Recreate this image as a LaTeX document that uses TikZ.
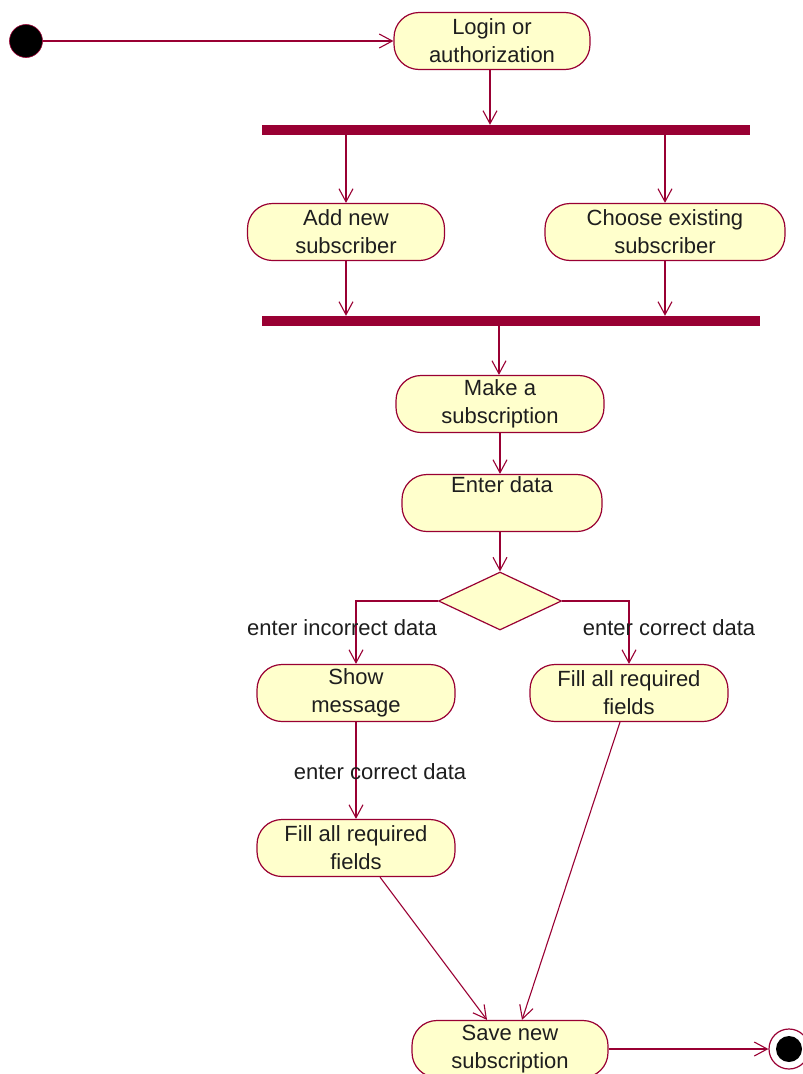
\documentclass[tikz,border=0pt]{standalone}
\usepackage{fontspec}
\setmainfont{Liberation Sans}
\usetikzlibrary{arrows.meta,shapes.geometric}
\definecolor{umlline}{HTML}{990033}
\definecolor{umlfill}{HTML}{FFFFCC}
\definecolor{umltext}{HTML}{1E1E1E}
\begin{document}
\begin{tikzpicture}[x=1pt,y=-1pt,
  activity/.style={draw=umlline, fill=umlfill, line width=1.2pt,
    rounded corners=25pt, minimum height=57pt, align=center,
    text=umltext, font=\fontsize{22}{28}\selectfont, inner sep=0pt},
  bar/.style={fill=umlline, draw=none, inner sep=0pt, minimum height=10pt},
  flow/.style={draw=umlline, line width=1.1pt,
    -{Straight Barb[length=13pt,width=14pt,line width=1.1pt]}},
  guard/.style={text=umltext, font=\fontsize{22}{24}\selectfont, inner sep=0pt}]
\useasboundingbox (0,0) rectangle (803,1074);

% initial and final states
\node[circle, fill=black, draw=umlline, line width=0.6pt, minimum size=33pt, inner sep=0pt] (start) at (26,41) {};
\node[circle, draw=umlline, fill=white, line width=1.2pt, minimum size=40pt, inner sep=0pt] (final) at (789,1049) {};
\fill[black] (final.center) circle (13pt);

% activities
\node[activity, minimum width=196pt] (login) at (492,41) {Login or\\authorization};
\node[bar, minimum width=488pt] (fork) at (506,130) {};
\node[activity, minimum width=197pt] (addnew) at (346,232) {Add new\\subscriber};
\node[activity, minimum width=240pt] (choose) at (665,232) {Choose existing\\subscriber};
\node[bar, minimum width=498pt] (join) at (511,321) {};
\node[activity, minimum width=208pt] (make) at (500,404) {Make a\\subscription};
\node[activity, minimum width=200pt] (enter) at (502,503) {Enter data\\\strut};
\node[draw=umlline, fill=umlfill, line width=1.2pt, diamond, aspect=2.1,
      minimum width=123pt, minimum height=58pt, inner sep=0pt] (decide) at (500,601) {};
\node[activity, minimum width=198pt] (show) at (356,693) {Show\\message};
\node[activity, minimum width=198pt] (fillR) at (629,693) {Fill all required\\fields};
\node[activity, minimum width=198pt] (fillL) at (356,848) {Fill all required\\fields};
\node[activity, minimum width=196pt] (save) at (510,1049) {Save new\\subscription};

% transitions
\draw[flow] (login.south -| 490,0) -- (fork.north -| 490,0);
\draw[flow] (start) -- (login);
\draw[flow] (fork.south -| addnew.north) -- (addnew.north);
\draw[flow] (fork.south -| choose.north) -- (choose.north);
\draw[flow] (addnew.south) -- (join.north -| addnew.south);
\draw[flow] (choose.south) -- (join.north -| choose.south);
\draw[flow] (join.south -| 499,0) -- (make.north -| 499,0);
\draw[flow] (make.south -| 500,0) -- (enter.north -| 500,0);
\draw[flow] (enter.south -| decide.north) -- (decide.north);
\draw[flow] (decide.west) -| (show.north);
\draw[flow] (decide.east) -| (fillR.north);
\draw[flow] (show.south) -- (fillL.north);
\draw[flow] ([xshift=24pt]fillL.south) -- ([xshift=-23pt]save.north);
\draw[flow] ([xshift=-9pt]fillR.south) -- ([xshift=12pt]save.north);
\draw[flow] (save.east) -- (final.west);

% guards
\node[guard] (gIncorrect) at (342,628) {enter incorrect data};
\node[guard] (gCorrectR) at (669,628) {enter correct data};
\node[guard] (gCorrectL) at (380,772) {enter correct data};
\end{tikzpicture}
\end{document}
